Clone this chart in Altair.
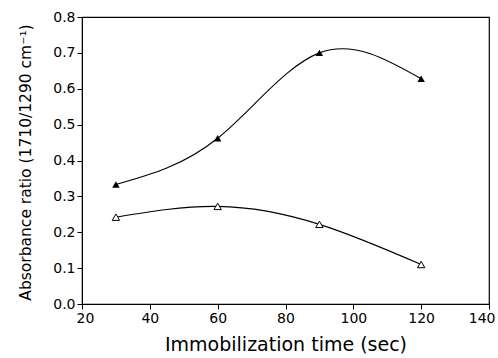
import altair as alt
import pandas as pd

times = [30, 60, 90, 120]
filled_vals = [0.333, 0.462, 0.700, 0.628]
open_vals = [0.242, 0.272, 0.222, 0.110]

df = pd.DataFrame({
    "t": times * 2,
    "v": filled_vals + open_vals,
    "s": ["filled"] * 4 + ["open"] * 4,
})

font = "DejaVu Sans"
xs = alt.Scale(domain=[20, 140], nice=False, zero=False)
ys = alt.Scale(domain=[0, 0.8], nice=False)

xax = alt.Axis(values=[20, 40, 60, 80, 100, 120, 140], format="d", grid=False,
               title="Immobilization time (sec)", titleFontSize=19, titleFontWeight="normal",
               labelFontSize=14, titleFont=font, labelFont=font, tickSize=5,
               domainColor="black", tickColor="black", labelColor="black", titleColor="black",
               titlePadding=10, labelPadding=2, labelOverlap=False,
               labelFlush=1, labelFlushOffset=6)
yax = alt.Axis(values=[0, 0.1, 0.2, 0.3, 0.4, 0.5, 0.6, 0.7, 0.8], format=".1f", grid=False,
               title="Absorbance ratio (1710/1290 cm\u207b\u00b9)", titleFontSize=15.5,
               titleFontWeight="normal", labelFontSize=14, titleFont=font, labelFont=font,
               tickSize=5, domainColor="black", tickColor="black", labelColor="black",
               titleColor="black", titleX=-49, titleY=145, titleBaseline="bottom",
               titleAngle=270, labelPadding=2, labelOverlap=False,
               labelFlush=False)

X = alt.X("t:Q", scale=xs, axis=xax)
Y = alt.Y("v:Q", scale=ys, axis=yax)

base = alt.Chart(df)
lines = base.mark_line(interpolate="natural", color="black", strokeWidth=1.1).encode(
    x=X, y=Y, detail="s:N",
)
pts_f = base.transform_filter(alt.datum.s == "filled").mark_point(
    shape="triangle-up", filled=True, color="black", size=55, opacity=1
).encode(x=X, y=Y)
pts_o = base.transform_filter(alt.datum.s == "open").mark_point(
    shape="triangle-up", filled=True, fill="white", stroke="black", strokeWidth=1,
    size=55, opacity=1
).encode(x=X, y=Y)

chart = alt.layer(lines, pts_f, pts_o).properties(
    width=407, height=287,
    autosize=alt.AutoSizeParams(type="none"),
    padding={"left": 82, "top": 17, "right": 9, "bottom": 54},
    background="white",
).configure_view(stroke="black", strokeWidth=1.2)

chart.save("out.html", embed_options={"renderer": "svg", "actions": False})
